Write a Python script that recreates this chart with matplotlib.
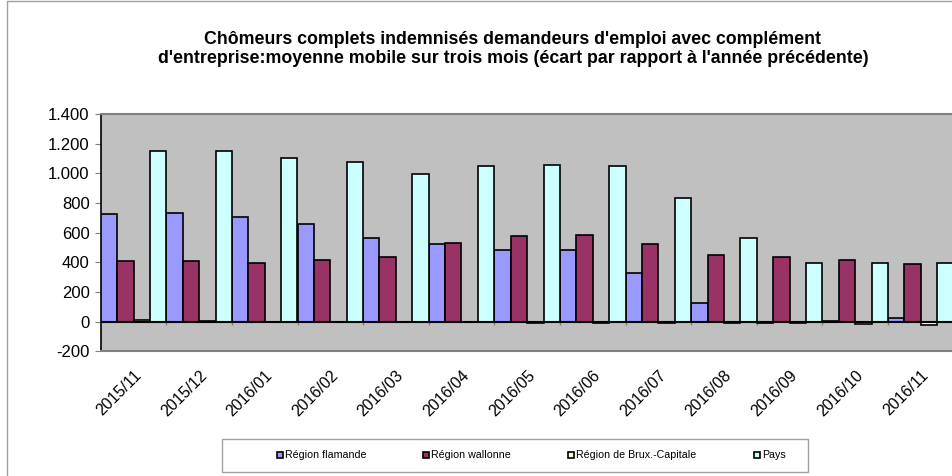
import numpy as np
import matplotlib
matplotlib.use('Agg')
import matplotlib.pyplot as plt
from matplotlib.lines import Line2D
from matplotlib.patches import Rectangle
from matplotlib.ticker import FuncFormatter

plt.rcParams['font.family'] = ['Liberation Sans', 'DejaVu Sans']

months = ['2015/11', '2015/12', '2016/01', '2016/02', '2016/03', '2016/04', '2016/05',
          '2016/06', '2016/07', '2016/08', '2016/09', '2016/10', '2016/11']
flamande = [728, 735, 708, 661, 566, 522, 486, 486, 328, 124, -12, 5, 25]
wallonne = [411, 411, 394, 416, 434, 531, 580, 582, 524, 452, 434, 416, 391]
bruxelles = [10, 5, -2, -3, -3, -3, -8, -8, -10, -8, -12, -18, -20]
pays = [1151, 1151, 1102, 1077, 994, 1048, 1057, 1050, 836, 564, 394, 396, 396]

series_names = ['Région flamande', 'Région wallonne', 'Région de Brux.-Capitale', 'Pays']
series_vals = [flamande, wallonne, bruxelles, pays]
colors = ['#9999FF', '#993366', '#FFFFCC', '#CCFFFF']

W, H = 952, 476
fig = plt.figure(figsize=(W / 100, H / 100), dpi=100)

# chart area border (cut on right/bottom in the original)
fig.patches.append(Rectangle((7 / W, -0.1), 1.2, 1.1 - 0.5 / H, transform=fig.transFigure,
                             fill=False, edgecolor='#A0A0A0', linewidth=1.0))

ax = fig.add_axes([100.7 / W, 1 - 351.3 / H, 852.8 / W, 237.3 / H])
ax.set_facecolor('#C0C0C0')

x = np.arange(len(months))
w = 0.25
for j, (vals, c) in enumerate(zip(series_vals, colors)):
    ax.bar(x + j * w, vals, w, align='edge', color=c, edgecolor='black', linewidth=1.2, zorder=3)

# category axis sits on the zero line, with small ticks between groups
ax.axhline(0, color='black', linewidth=1.5, zorder=4)
ax.vlines(x[1:], -22, 0, color='#808080', linewidth=1.0, zorder=2)

ax.set_xlim(0, len(months))
ax.set_ylim(-200, 1400)
ax.set_yticks(np.arange(-200, 1401, 200))
ax.yaxis.set_major_formatter(FuncFormatter(lambda v, p: f'{int(v):,}'.replace(',', '.')))
ax.tick_params(axis='y', labelsize=12, length=4, color='#808080', pad=4)

ax.set_xticks(x + 0.5)
ax.set_xticklabels(months, rotation=45, ha='right', rotation_mode='anchor', fontsize=11.5)
ax.tick_params(axis='x', length=0, pad=12)

for s in ['top', 'right', 'bottom']:
    ax.spines[s].set_color('#808080')
    ax.spines[s].set_linewidth(1.5)
ax.spines['left'].set_color('black')
ax.spines['left'].set_linewidth(1.2)

fig.text(513 / W, 1 - 49 / H,
         "Chômeurs complets indemnisés demandeurs d'emploi avec complément\n"
         "d'entreprise:moyenne mobile sur trois mois (écart par rapport à l'année précédente)",
         ha='center', va='center', fontsize=12.8, fontweight='bold', linespacing=1.12)

# legend box
fig.patches.append(Rectangle((222 / W, 1 - 472 / H), (808 - 222) / W, 33 / H,
                             transform=fig.transFigure, fill=False,
                             edgecolor='#A0A0A0', linewidth=1.0))
handles = [Line2D([], [], marker='s', linestyle='none', markersize=5, markerfacecolor=c,
                  markeredgecolor='black', markeredgewidth=1.2) for c in colors]
fig.legend(handles, series_names, loc='center left', bbox_to_anchor=(276 / W, 1 - 455.5 / H),
           ncol=4, fontsize=7.7, frameon=False, borderpad=0, borderaxespad=0,
           handletextpad=0.1, handlelength=0.7, columnspacing=5.3)

fig.savefig('out.png', dpi=100)
